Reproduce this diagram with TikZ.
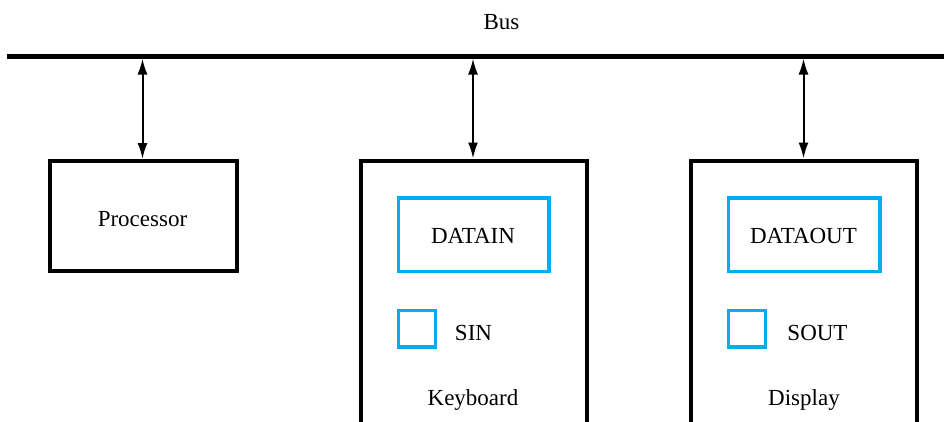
\documentclass[tikz,border=0pt]{standalone}
\usepackage{fontspec}
\setmainfont{Liberation Serif}
\usetikzlibrary{arrows.meta}
\definecolor{boxcyan}{RGB}{0,174,239}
\begin{document}
\begin{tikzpicture}[x=1pt,y=-1pt,
  txt/.style={font=\fontsize{23}{27}\selectfont, inner sep=0pt, anchor=base},
  unit/.style={draw=black, line width=4pt, rectangle, inner sep=0pt},
  reg/.style={draw=boxcyan, line width=3.5pt, rectangle, inner sep=0pt},
  link/.style={line width=2pt, {Latex[length=16pt,width=10pt]}-{Latex[length=16pt,width=10pt]}}
]
\useasboundingbox (0,0) rectangle (944,421);
\clip (0,0) rectangle (944,421);
% bus
\coordinate (busL) at (7,56);
\coordinate (busR) at (944,56);
\draw[line width=5pt] (busL) -- (busR);
\node[txt] (bus) at (501.5,29.3) {Bus};
% processor
\node[unit, minimum width=187pt, minimum height=109.5pt] (proc) at (143,215.75) {};
\node[txt] (proctext) at (142.5,226) {Processor};
% keyboard
\node[unit, minimum width=226pt, minimum height=300pt] (kbd) at (473.5,310.5) {};
\node[reg, minimum width=150.3pt, minimum height=73.5pt] (datain) at (473.85,234.75) {};
\node[txt] (dataintext) at (473,243.3) {DATAIN};
\node[reg, minimum width=36.8pt, minimum height=36.3pt] (sin) at (417.1,328.85) {};
\node[txt] (sintext) at (473.5,340) {SIN};
\node[txt] (kbdtext) at (473,405) {Keyboard};
% display
\node[unit, minimum width=225.7pt, minimum height=300pt] (disp) at (803.85,310.5) {};
\node[reg, minimum width=151.3pt, minimum height=73.5pt] (dataout) at (804.35,234.75) {};
\node[txt] (dataouttext) at (803.5,243.3) {DATAOUT};
\node[reg, minimum width=36.6pt, minimum height=36.3pt] (sout) at (747,328.85) {};
\node[txt] (souttext) at (817.5,340) {SOUT};
\node[txt] (disptext) at (804,405) {Display};
% connections
\coordinate (t1) at (142.5,58.5);
\coordinate (t2) at (473,58.5);
\coordinate (t3) at (803.5,58.5);
\draw[link] (t1) -- (t1 |- proc.north);
\draw[link] (t2) -- (t2 |- kbd.north);
\draw[link] (t3) -- (t3 |- disp.north);
\end{tikzpicture}
\end{document}
